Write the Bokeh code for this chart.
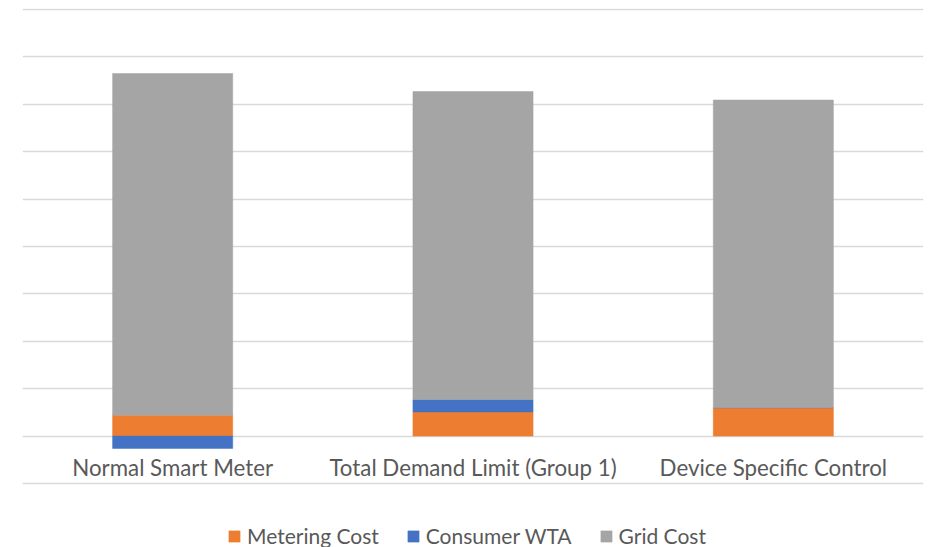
import numpy as np
from bokeh.plotting import figure
from bokeh.models import Range1d, FactorRange, FixedTicker, Legend, LegendItem, ColumnDataSource
from bokeh.core.properties import value
from bokeh.embed import file_html
from bokeh.resources import INLINE

categories = ["Normal Smart Meter", "Total Demand Limit (Group 1)", "Device Specific Control"]
metering_cost = [0.44, 0.51, 0.60]
consumer_wta = [-0.26, 0.26, 0.0]
grid_cost = [7.21, 6.50, 6.49]
grid_ticks = [-1, 0, 1, 2, 3, 4, 5, 6, 7, 8, 9]

series_names = ["Metering Cost", "Consumer WTA", "Grid Cost"]
colors = ["#ED7D31", "#4472C4", "#A5A5A5"]

FONT = "Lato"
TXT = "#595959"

p = figure(width=933, height=547, x_range=FactorRange(*categories),
           y_range=Range1d(-2.35, 9.021), output_backend="svg", toolbar_location=None,
           min_border_left=22, min_border_right=10, min_border_top=8, min_border_bottom=0)
p.outline_line_color = None
p.xaxis.visible = False
p.yaxis.visible = False
p.xgrid.grid_line_color = None
p.ygrid.ticker = FixedTicker(ticks=grid_ticks)
p.ygrid.grid_line_color = "#D9D9D9"
p.ygrid.grid_line_width = 1.3

# Excel-style stacking: positives stack upward from 0, negatives downward from 0
series = [np.array(metering_cost), np.array(consumer_wta), np.array(grid_cost)]
pos_base = np.zeros(len(categories))
neg_base = np.zeros(len(categories))
renderers = []
for vals, name, col in zip(series, series_names, colors):
    bottoms = np.where(vals >= 0, pos_base, neg_base)
    tops = bottoms + vals
    src = ColumnDataSource(dict(x=categories, bottom=bottoms, top=tops))
    r = p.vbar(x="x", bottom="bottom", top="top", width=0.4, source=src,
               fill_color=col, line_color=col, line_width=0.5)
    renderers.append((name, r))
    pos_base = np.where(vals >= 0, tops, pos_base)
    neg_base = np.where(vals < 0, tops, neg_base)

label_y = -0.66
p.text(x=categories, y=[label_y] * len(categories), text=categories,
       text_align="center", text_baseline="middle",
       text_font=value(FONT), text_font_size="22.3px", text_color=TXT)

legend = Legend(items=[LegendItem(label=n, renderers=[r]) for n, r in renderers],
                orientation="horizontal", location=(205, -1))
legend.glyph_width = 14
legend.glyph_height = 14
legend.label_standoff = 6
legend.spacing = 27
legend.padding = 0
legend.margin = 0
legend.border_line_color = None
legend.background_fill_alpha = 0
legend.label_text_font = FONT
legend.label_text_font_size = "21px"
legend.label_text_color = TXT
p.add_layout(legend, "center")

open("out.html", "w").write(file_html(p, INLINE))
